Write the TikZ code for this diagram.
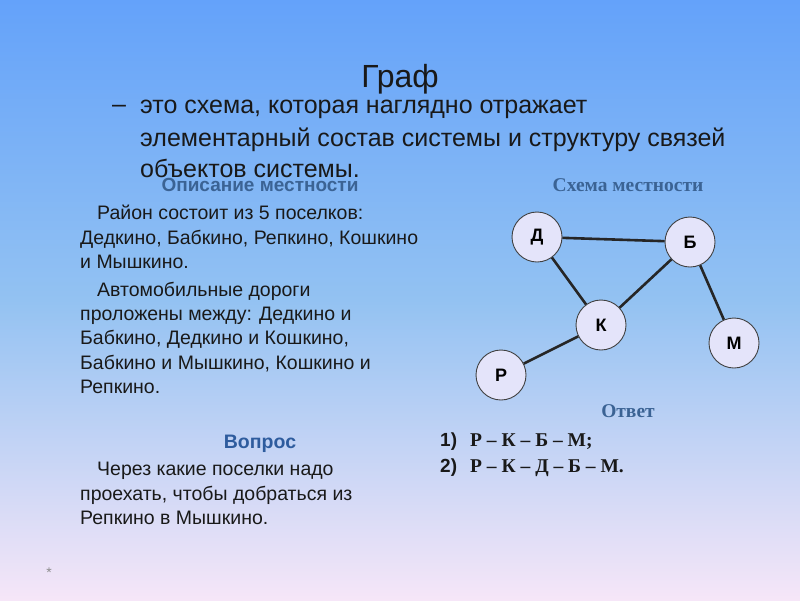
\documentclass[tikz,border=0pt]{standalone}
\usepackage{fontspec}
\setmainfont{Liberation Sans}
\newfontfamily\serifb{Liberation Serif}
\definecolor{bgtop}{HTML}{64A2FA}
\definecolor{bgmid}{HTML}{93C2F2}
\definecolor{bgbot}{HTML}{F6E6F8}
\definecolor{headblue}{HTML}{3B6394}
\definecolor{qblue}{HTML}{2E5C9E}
\definecolor{nodefill}{HTML}{E4E4FA}
\tikzset{
  town/.style={circle,draw=black!75,line width=0.9pt,fill=nodefill,minimum size=50pt,inner sep=0pt,font=\fontsize{18}{18}\selectfont\bfseries},
  road/.style={line width=2.6pt,black!85},
  bodytxt/.style={anchor=base west,inner sep=0pt,font=\fontsize{19.5}{19.5}\selectfont,text=black!90},
  deftxt/.style={anchor=base west,inner sep=0pt,font=\fontsize{25}{25}\selectfont,text=black!90},
  ans/.style={anchor=base west,inner sep=0pt,font=\fontsize{19}{19}\selectfont\bfseries,text=black!90},
  ansser/.style={anchor=base west,inner sep=0pt,font=\fontsize{19.5}{19.5}\selectfont\serifb\bfseries,text=black!90}
}
\begin{document}
\begin{tikzpicture}[x=1pt,y=-1pt]
\useasboundingbox (0,0) rectangle (800,600);
\shade[top color=bgtop,bottom color=bgbot,middle color=bgmid] (0,0) rectangle (800,600);
% title
\node[anchor=base,inner sep=0pt,font=\fontsize{32}{32}\selectfont,text=black!90] (title) at (400,87) {Граф};
\node[deftxt] (dash) at (112,112) {–};
\node[deftxt] (d1) at (140,113) {это схема, которая наглядно отражает};
\node[deftxt] (d2) at (140,146) {элементарный состав системы и структуру связей};
\node[deftxt] (d3) at (140,177) {объектов системы.};
% headings
\node[anchor=base,inner sep=0pt,font=\fontsize{19}{19}\selectfont\bfseries,text=headblue] (h1) at (260,191) {Описание местности};
\node[anchor=base,inner sep=0pt,font=\fontsize{19.5}{19.5}\selectfont\serifb\bfseries,text=headblue] (h2) at (628,191) {Схема местности};
% left text
\node[bodytxt] (p1) at (97,219) {Район состоит из 5 поселков:};
\node[bodytxt] (p2) at (80,244) {Дедкино, Бабкино, Репкино, Кошкино};
\node[bodytxt] (p3) at (80,268) {и Мышкино.};
\node[bodytxt] (p4) at (97,296) {Автомобильные дороги};
\node[bodytxt] (p5) at (80,320) {проложены между: Дедкино и};
\node[bodytxt] (p6) at (80,344) {Бабкино, Дедкино и Кошкино,};
\node[bodytxt] (p7) at (80,369) {Бабкино и Мышкино, Кошкино и};
\node[bodytxt] (p8) at (80,393) {Репкино.};
\node[anchor=base,inner sep=0pt,font=\fontsize{19.5}{19.5}\selectfont\bfseries,text=qblue] (q) at (260,448) {Вопрос};
\node[bodytxt] (q1) at (97,475) {Через какие поселки надо};
\node[bodytxt] (q2) at (80,500) {проехать, чтобы добраться из};
\node[bodytxt] (q3) at (80,524) {Репкино в Мышкино.};
% graph
\node[town] (D) at (537,237) {Д};
\node[town] (B) at (690,242) {Б};
\node[town] (K) at (601,325) {К};
\node[town] (M) at (734,343) {М};
\node[town] (R) at (501,375) {Р};
\draw[road] (D) -- (B);
\draw[road] (D) -- (K);
\draw[road] (B) -- (K);
\draw[road] (B) -- (M);
\draw[road] (K) -- (R);
% answer
\node[anchor=base,inner sep=0pt,font=\fontsize{19.5}{19.5}\selectfont\serifb\bfseries,text=headblue] (otv) at (628,417) {Ответ};
\node[ans] (a1n) at (440,446) {1)};
\node[ansser] (a1) at (470,446) {Р – К – Б – М;};
\node[ans] (a2n) at (440,472) {2)};
\node[ansser] (a2) at (470,472) {Р – К – Д – Б – М.};
\node[inner sep=0pt,font=\fontsize{14}{14}\selectfont,text=black!45] (star) at (49,573) {*};
\end{tikzpicture}
\end{document}
